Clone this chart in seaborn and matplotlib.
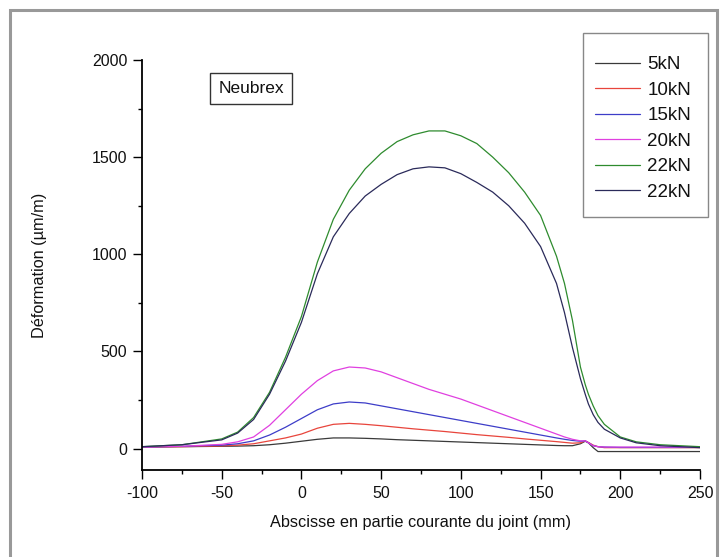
import matplotlib
matplotlib.use("Agg")
import matplotlib.pyplot as plt
import seaborn as sns
import pandas as pd
from matplotlib.patches import Rectangle

sns.set_theme(style="white")
plt.rcParams['font.family'] = ['Liberation Sans', 'DejaVu Sans']
plt.rcParams['axes.unicode_minus'] = False

x_mm = [-100, -75, -50, -40, -30, -20, -10, 0, 10, 20, 30, 40, 50, 60, 70, 80, 90, 100,
        110, 120, 130, 140, 150, 160, 165, 170, 175, 178, 180, 183, 186, 190, 200, 210, 225, 250]

s5 = [8, 10, 12, 13, 15, 20, 28, 38, 48, 55, 55, 53, 50, 46, 43, 40, 37, 34,
      31, 28, 25, 22, 19, 16, 15, 15, 25, 38, 30, 5, -15, -15, -15, -15, -15, -15]
s10 = [8, 10, 14, 18, 25, 40, 55, 75, 105, 125, 130, 125, 118, 110, 102, 95, 88, 80,
       72, 65, 58, 50, 43, 36, 32, 28, 30, 40, 32, 18, 10, 5, 5, 5, 5, 5]
s15 = [8, 12, 18, 25, 40, 70, 110, 155, 200, 230, 240, 235, 220, 205, 190, 175, 160, 145,
       130, 115, 100, 85, 70, 55, 48, 42, 38, 40, 30, 15, 10, 8, 6, 6, 6, 6]
s20 = [8, 12, 22, 35, 60, 120, 200, 280, 350, 400, 420, 415, 395, 365, 335, 305, 280, 255,
       225, 195, 165, 135, 105, 75, 60, 48, 40, 40, 30, 15, 10, 8, 8, 8, 8, 8]
s22a = [10, 20, 50, 85, 160, 290, 470, 680, 960, 1180, 1330, 1440, 1520, 1580, 1615, 1635, 1635, 1610,
        1570, 1500, 1420, 1320, 1200, 990, 850, 660, 420, 330, 280, 220, 170, 125, 60, 35, 20, 10]
s22b = [10, 20, 45, 80, 150, 280, 450, 650, 900, 1090, 1210, 1300, 1360, 1410, 1440, 1450, 1445, 1415,
        1370, 1320, 1250, 1160, 1040, 850, 700, 520, 360, 280, 230, 175, 135, 100, 55, 30, 15, 5]

labels = ["5kN", "10kN", "15kN", "20kN", "22kN", "22kN"]
colors = ["#3a3a3a", "#e8453c", "#3d3dc8", "#e040e0", "#2e8b2e", "#2a2a5a"]
series = [s5, s10, s15, s20, s22a, s22b]

x_ticks = [-100, -50, 0, 50, 100, 150, 200, 250]
y_ticks = [0, 500, 1000, 1500, 2000]

fig = plt.figure(figsize=(7.25, 5.57), dpi=100)
fig.patch.set_facecolor("white")
ax = fig.add_axes([142 / 725, 1 - 470 / 557, (700 - 142) / 725, (470 - 60) / 557])
ax.set_facecolor("white")

for lab, col, ys in zip(labels, colors, series):
    df = pd.DataFrame({"x": x_mm, "y": ys})
    sns.lineplot(data=df, x="x", y="y", ax=ax, color=col, linewidth=0.9, label=lab, legend=False)

ax.set_xlim(-100, 250)
ax.set_ylim(-110, 2000)
ax.set_xticks(x_ticks)
ax.set_yticks(y_ticks)
ax.set_xticks([-75, -25, 25, 75, 125, 175, 225], minor=True)
ax.set_yticks([250, 750, 1250, 1750], minor=True)
ax.tick_params(axis="both", which="major", direction="out", length=6.5, width=1.0,
               color="black", labelsize=11.5, labelcolor="#111111", pad=4)
ax.tick_params(axis="both", which="minor", direction="out", length=3.2, width=1.0, color="black")
ax.tick_params(axis="x", which="major", pad=5)
ax.tick_params(bottom=True, left=True, which="both")

for side in ["top", "right"]:
    ax.spines[side].set_visible(False)
for side in ["left", "bottom"]:
    ax.spines[side].set_color("black")
    ax.spines[side].set_linewidth(1.3)

ax.set_xlabel("Abscisse en partie courante du joint (mm)", fontsize=11.7, color="#111111", labelpad=10)
ax.set_ylabel("Déformation (µm/m)", fontsize=11.7, color="#111111", labelpad=32)

# Annotation box
fig.text(251 / 725, 1 - 88.5 / 557, "Neubrex", fontsize=12.5, color="#111111",
         ha="center", va="center",
         bbox=dict(boxstyle="square,pad=0.45", facecolor="white", edgecolor="#333333", linewidth=1.0))

# Legend (frameless) with a separate frame rectangle
handles, labs = ax.get_legend_handles_labels()
leg = fig.legend(handles, labs, loc="upper left", bbox_to_anchor=(595 / 725, 1 - 56 / 557),
                 fontsize=13.5, frameon=False,
                 handlelength=2.4, handletextpad=0.4, labelspacing=0.45, borderpad=0,
                 borderaxespad=0)
for t in leg.get_texts():
    t.set_color("#111111")
fig.patches.append(Rectangle((583 / 725, 1 - 217 / 557), (708 - 583) / 725, (217 - 33) / 557,
                             transform=fig.transFigure, fill=False, edgecolor="#888888",
                             linewidth=1.0, zorder=1))

# Outer gray border of the figure
fig.patches.append(Rectangle((10 / 725, -0.05), (717 - 10) / 725, 1.05 - 10 / 557,
                             transform=fig.transFigure, fill=False, edgecolor="#999999",
                             linewidth=2.2, zorder=0))

fig.savefig("out.png", dpi=100)
